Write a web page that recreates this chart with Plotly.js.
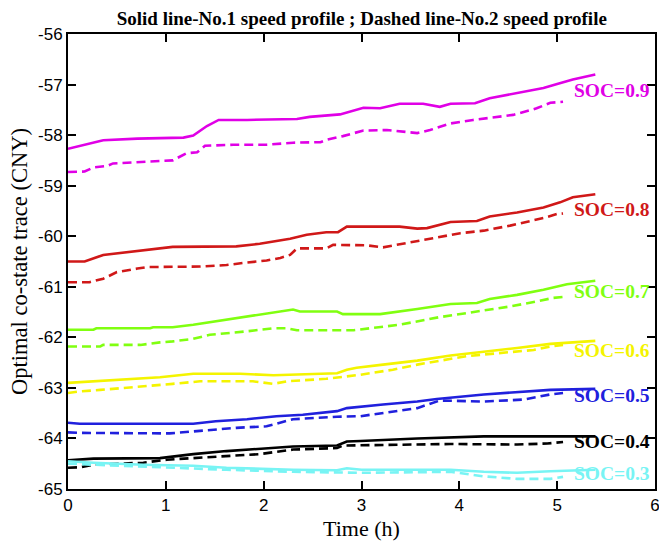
<!DOCTYPE html>
<html>
<head>
<meta charset="utf-8">
<script src="https://cdn.plot.ly/plotly-3.0.1.min.js"></script>
<style>
  html, body { margin: 0; padding: 0; background: #fff; }
  #chart { width: 659px; height: 547px; }
</style>
</head>
<body>
<div id="chart"></div>
<script>
// Optimal co-state traces (CNY) over time (h), for initial SOC 0.3 ... 0.9.
// Solid = speed profile No.1, dashed = speed profile No.2.

const socLabels = ['SOC=0.9', 'SOC=0.8', 'SOC=0.7', 'SOC=0.6', 'SOC=0.5', 'SOC=0.4', 'SOC=0.3'];
const socColors = ['#e000e6', '#d01818', '#80ff10', '#f4f400', '#2020dd', '#000000', '#78f4f4'];
const labelY    = [-57.11, -59.48, -61.10, -62.26, -63.15, -64.06, -64.70];

// ---- SOC = 0.9 ----
const t09s = [0, 0.22, 0.36, 0.71, 1.18, 1.28, 1.42, 1.54, 1.83, 2.34, 2.47, 2.78, 2.88, 3.02, 3.19, 3.39, 3.63, 3.80, 3.91, 4.16, 4.31, 4.59, 4.86, 5.00, 5.16, 5.39];
const v09s = [-58.27, -58.17, -58.10, -58.07, -58.05, -58.01, -57.82, -57.70, -57.70, -57.68, -57.64, -57.59, -57.53, -57.46, -57.47, -57.38, -57.38, -57.44, -57.38, -57.37, -57.27, -57.17, -57.07, -56.99, -56.90, -56.80];
const t09d = [0, 0.17, 0.26, 0.40, 0.46, 0.77, 1.07, 1.21, 1.32, 1.40, 1.69, 2.03, 2.30, 2.58, 2.65, 2.81, 3.02, 3.26, 3.39, 3.57, 3.70, 3.91, 4.14, 4.35, 4.55, 4.79, 4.93, 5.06];
const v09d = [-58.73, -58.72, -58.64, -58.61, -58.56, -58.53, -58.50, -58.36, -58.34, -58.21, -58.19, -58.19, -58.15, -58.14, -58.09, -58.02, -57.91, -57.90, -57.92, -57.96, -57.90, -57.77, -57.70, -57.65, -57.60, -57.47, -57.36, -57.34];

// ---- SOC = 0.8 ----
const t08s = [0, 0.17, 0.36, 0.60, 0.84, 1.07, 1.72, 1.96, 2.27, 2.44, 2.64, 2.76, 2.85, 3.39, 3.57, 3.67, 3.91, 4.18, 4.31, 4.59, 4.86, 5.03, 5.16, 5.39];
const v08s = [-60.50, -60.50, -60.37, -60.32, -60.27, -60.21, -60.20, -60.15, -60.05, -59.97, -59.92, -59.92, -59.81, -59.81, -59.85, -59.84, -59.72, -59.70, -59.61, -59.53, -59.43, -59.33, -59.23, -59.17];
const t08d = [0, 0.22, 0.36, 0.50, 0.71, 0.81, 1.35, 1.62, 1.83, 2.03, 2.17, 2.27, 2.34, 2.64, 2.71, 3.05, 3.22, 3.43, 3.73, 4.01, 4.25, 4.52, 4.72, 4.86, 5.00, 5.06];
const v08d = [-60.91, -60.91, -60.84, -60.71, -60.64, -60.61, -60.60, -60.57, -60.52, -60.48, -60.43, -60.37, -60.24, -60.24, -60.17, -60.18, -60.22, -60.15, -60.04, -59.94, -59.89, -59.79, -59.70, -59.64, -59.56, -59.55];

// ---- SOC = 0.7 ----
const t07s = [0, 0.26, 0.29, 0.84, 0.87, 1.07, 1.28, 1.62, 1.96, 2.30, 2.37, 2.75, 2.81, 3.19, 3.57, 3.91, 4.18, 4.31, 4.59, 4.86, 5.10, 5.39];
const v07s = [-61.85, -61.85, -61.82, -61.82, -61.80, -61.80, -61.75, -61.65, -61.55, -61.45, -61.49, -61.49, -61.54, -61.54, -61.44, -61.34, -61.32, -61.24, -61.16, -61.06, -60.95, -60.88];
const t07d = [0, 0.33, 0.36, 0.74, 0.94, 1.07, 1.28, 1.45, 1.83, 2.10, 2.24, 2.34, 2.92, 3.09, 3.39, 3.80, 4.18, 4.52, 4.79, 4.96, 5.06];
const v07d = [-62.18, -62.18, -62.15, -62.15, -62.10, -62.08, -62.03, -61.95, -61.88, -61.82, -61.82, -61.86, -61.86, -61.82, -61.75, -61.60, -61.49, -61.39, -61.29, -61.22, -61.20];

// ---- SOC = 0.6 ----
const t06s = [0, 0.33, 0.60, 0.94, 1.28, 1.76, 2.10, 2.75, 2.85, 2.95, 3.22, 3.57, 3.91, 4.25, 4.59, 4.93, 5.39];
const v06s = [-62.90, -62.86, -62.84, -62.79, -62.72, -62.72, -62.75, -62.71, -62.64, -62.60, -62.54, -62.46, -62.36, -62.29, -62.21, -62.13, -62.07];
const t06d = [0, 0.12, 0.33, 0.60, 0.81, 1.07, 1.35, 1.89, 2.10, 2.24, 2.64, 2.85, 2.99, 3.32, 3.57, 4.08, 4.42, 4.76, 4.93, 5.06];
const v06d = [-63.10, -63.07, -63.04, -63.00, -62.97, -62.92, -62.87, -62.87, -62.92, -62.87, -62.82, -62.77, -62.74, -62.64, -62.54, -62.37, -62.31, -62.25, -62.18, -62.15];

// ---- SOC = 0.5 ----
const t05s = [0, 0.12, 1.28, 1.51, 1.83, 2.13, 2.40, 2.75, 2.85, 2.99, 3.22, 3.57, 3.77, 4.25, 4.59, 4.93, 5.39];
const v05s = [-63.69, -63.71, -63.71, -63.66, -63.62, -63.56, -63.53, -63.46, -63.40, -63.37, -63.33, -63.27, -63.22, -63.13, -63.09, -63.04, -63.02];
const t05d = [0, 0.12, 1.04, 1.35, 1.72, 2.03, 2.17, 2.30, 2.75, 2.99, 3.57, 3.80, 4.25, 4.66, 4.93, 5.06];
const v05d = [-63.88, -63.89, -63.90, -63.85, -63.79, -63.76, -63.68, -63.62, -63.57, -63.56, -63.40, -63.25, -63.27, -63.23, -63.13, -63.10];

// ---- SOC = 0.4 ----
const t04s = [0, 0.26, 0.94, 1.28, 1.62, 1.96, 2.30, 2.75, 2.85, 2.99, 3.57, 4.25, 5.39];
const v04s = [-64.43, -64.40, -64.39, -64.31, -64.25, -64.20, -64.16, -64.14, -64.06, -64.05, -64.00, -63.96, -63.96];
const t04d = [0, 0.12, 0.26, 0.77, 1.01, 1.35, 1.96, 2.30, 2.75, 2.81, 3.57, 3.91, 4.59, 4.90, 5.06];
const v04d = [-64.58, -64.57, -64.52, -64.48, -64.42, -64.38, -64.31, -64.22, -64.19, -64.14, -64.11, -64.11, -64.12, -64.10, -64.07];

// ---- SOC = 0.3 ----
const t03s = [0, 0.26, 0.77, 1.28, 1.62, 2.30, 2.75, 2.85, 3.00, 3.91, 4.25, 4.59, 4.93, 5.39];
const v03s = [-64.45, -64.48, -64.52, -64.54, -64.58, -64.62, -64.63, -64.59, -64.62, -64.62, -64.66, -64.68, -64.65, -64.62];
const t03d = [0, 0.77, 1.62, 2.30, 2.99, 3.91, 4.25, 4.59, 4.93, 5.06];
const v03d = [-64.50, -64.56, -64.62, -64.66, -64.68, -64.66, -64.75, -64.80, -64.80, -64.76];

// Axis ticks
const xTicks = [0, 1, 2, 3, 4, 5, 6];
const xTickText = ['0', '1', '2', '3', '4', '5', '6'];
const yTicks = [-65, -64, -63, -62, -61, -60, -59, -58, -57, -56];
const yTickText = ['-65', '-64', '-63', '-62', '-61', '-60', '-59', '-58', '-57', '-56'];

const solidSets = [[t09s, v09s], [t08s, v08s], [t07s, v07s], [t06s, v06s], [t05s, v05s], [t04s, v04s], [t03s, v03s]];
const dashedSets = [[t09d, v09d], [t08d, v08d], [t07d, v07d], [t06d, v06d], [t05d, v05d], [t04d, v04d], [t03d, v03d]];

const traces = [];
for (let i = 0; i < socLabels.length; i++) {
  traces.push({
    x: dashedSets[i][0], y: dashedSets[i][1], type: 'scatter', mode: 'lines',
    name: socLabels[i] + ' No.2', showlegend: false, hoverinfo: 'skip',
    line: { color: socColors[i], width: 2.6, dash: '9px,5px' }
  });
  traces.push({
    x: solidSets[i][0], y: solidSets[i][1], type: 'scatter', mode: 'lines',
    name: socLabels[i] + ' No.1', showlegend: false, hoverinfo: 'skip',
    line: { color: socColors[i], width: 2.6 }
  });
}

const serif = 'Liberation Serif, Times New Roman, serif';
const sans = 'Liberation Sans, Arial, sans-serif';

const annotations = socLabels.map((txt, i) => ({
  x: 5.15, y: labelY[i], xref: 'x', yref: 'y', xanchor: 'left', yanchor: 'middle',
  text: txt, showarrow: false,
  font: { family: serif, size: 19.5, color: socColors[i], weight: 'bold' }
}));

// Shared axis styling: boxed frame with inward ticks on all four sides
const axisStyle = {
  ticks: 'inside', ticklen: 8, tickwidth: 2, tickcolor: '#000',
  showline: true, linecolor: '#000', linewidth: 2, mirror: 'allticks',
  showgrid: false, zeroline: false, ticklabeloverflow: 'allow',
  tickfont: { family: sans, size: 17, color: '#000' }
};

const layout = {
  width: 659, height: 547,
  margin: { l: 68, r: 4, t: 34, b: 58 },
  paper_bgcolor: '#ffffff', plot_bgcolor: '#ffffff',
  showlegend: false,
  title: {
    text: 'Solid line-No.1 speed profile ; Dashed line-No.2 speed profile',
    font: { family: serif, size: 19, color: '#000', weight: 'bold' },
    x: 0.549, xanchor: 'center', y: 0.967, yanchor: 'middle'
  },
  xaxis: Object.assign({}, axisStyle, {
    range: [0, 6], tickmode: 'array', tickvals: xTicks, ticktext: xTickText,
    title: { text: 'Time (h)', font: { family: serif, size: 22, color: '#000' }, standoff: 6 }
  }),
  yaxis: Object.assign({}, axisStyle, {
    range: [-65, -56], tickmode: 'array', tickvals: yTicks, ticktext: yTickText,
    title: { text: 'Optimal co-state trace (CNY)', font: { family: serif, size: 22.5, color: '#000' }, standoff: 4 }
  }),
  annotations: annotations
};

Plotly.newPlot('chart', traces, layout, { displayModeBar: false, staticPlot: true });
</script>
</body>
</html>
